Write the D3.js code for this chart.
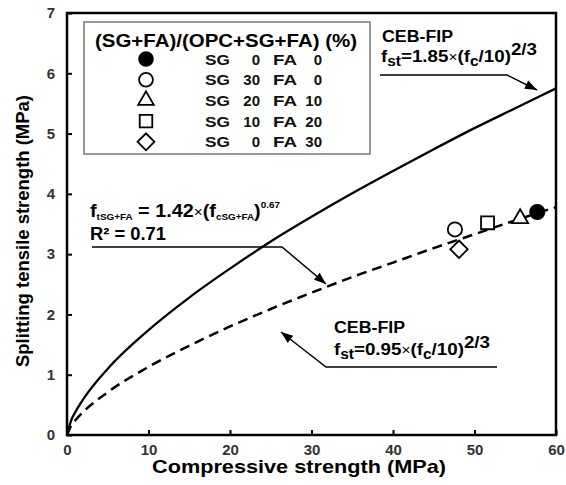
<!DOCTYPE html>
<html>
<head>
<meta charset="utf-8">
<script src="https://cdn.jsdelivr.net/npm/d3@7"></script>
<style>
  body { margin: 0; background: #fff; }
  text { font-family: "Liberation Sans", Arial, sans-serif; }
</style>
</head>
<body>
<div id="container"></div>
<script>
// values
var fcGrid = [0, 0.5, 1, 2, 5, 10, 15, 20, 25, 30, 35, 40, 45, 50, 55, 60];
var cebUpper = [0, 0.24, 0.375, 0.595, 1.10, 1.74, 2.28, 2.76, 3.21, 3.62, 4.01, 4.38, 4.74, 5.09, 5.42, 5.75];
var fitSgFa = [0, 0.15, 0.24, 0.385, 0.71, 1.13, 1.48, 1.80, 2.09, 2.36, 2.62, 2.86, 3.10, 3.33, 3.56, 3.78];

var mixSG = [0, 30, 20, 10, 0];
var mixFA = [0, 0, 10, 20, 30];
var mixFc = [57.7, 47.6, 55.6, 51.6, 48.1];
var mixFt = [3.70, 3.41, 3.59, 3.52, 3.08];
var mixSymbol = ['fcircle', 'circle', 'triangle', 'square', 'diamond'];

var xTicks = [0, 10, 20, 30, 40, 50, 60];
var yTicks = [0, 1, 2, 3, 4, 5, 6, 7];

var width = 566, height = 485;
var margin = { left: 67, right: 10, top: 13, bottom: 50 };

var svg = d3.select('#container').append('svg')
  .attr('width', width)
  .attr('height', height);

var x = d3.scaleLinear().domain([0, 60]).range([margin.left, width - margin.right]);
var y = d3.scaleLinear().domain([0, 7]).range([height - margin.bottom, margin.top]);

// axes with inward ticks
svg.append('g')
  .attr('transform', `translate(0,${y(0)})`)
  .call(d3.axisBottom(x).tickValues(xTicks).tickFormat(d3.format('d')).tickSizeInner(-5).tickSizeOuter(0).tickPadding(9))
  .call(g => g.select('.domain').remove())
  .call(g => g.selectAll('line').attr('stroke', '#000').attr('stroke-width', 2))
  .call(g => g.selectAll('text').attr('font-size', 15).attr('font-weight', 'bold').attr('fill', '#333')
    .attr('font-family', '"Liberation Sans", Arial, sans-serif'));

svg.append('g')
  .attr('transform', `translate(${x(0)},0)`)
  .call(d3.axisLeft(y).tickValues(yTicks).tickFormat(d3.format('d')).tickSizeInner(-5).tickSizeOuter(0).tickPadding(12))
  .call(g => g.select('.domain').remove())
  .call(g => g.selectAll('line').attr('stroke', '#000').attr('stroke-width', 2))
  .call(g => g.selectAll('text').attr('font-size', 15).attr('font-weight', 'bold').attr('fill', '#333')
    .attr('font-family', '"Liberation Sans", Arial, sans-serif'));

// frame
svg.append('rect')
  .attr('x', x(0)).attr('y', y(7))
  .attr('width', x(60) - x(0)).attr('height', y(0) - y(7))
  .attr('fill', 'none').attr('stroke', '#000').attr('stroke-width', 2.5);

// curves
var line = d3.line()
  .x((d, i) => x(fcGrid[i]))
  .y(d => y(d))
  .curve(d3.curveMonotoneX);

svg.append('path').datum(cebUpper)
  .attr('d', line)
  .attr('fill', 'none').attr('stroke', '#000').attr('stroke-width', 2.3);

svg.append('path').datum(fitSgFa)
  .attr('d', line)
  .attr('fill', 'none').attr('stroke', '#000').attr('stroke-width', 2.5)
  .attr('stroke-dasharray', '10,6');

// markers
function symbolPath(kind, s) {
  if (kind === 'fcircle' || kind === 'circle') return d3.symbol(d3.symbolCircle, s)();
  if (kind === 'triangle') return d3.symbol(d3.symbolTriangle, s * 0.7)();
  if (kind === 'square') return d3.symbol(d3.symbolSquare, s * 1.05)();
  return d3.symbol(d3.symbolSquare, s * 0.95)();
}

function drawMarker(g, kind, cx, cy, s) {
  g.append('path')
    .attr('d', symbolPath(kind, s))
    .attr('transform', `translate(${cx},${cy})` + (kind === 'diamond' ? ' rotate(45)' : ''))
    .attr('fill', kind === 'fcircle' ? '#000' : '#fff')
    .attr('stroke', '#000')
    .attr('stroke-width', 1.8);
}

mixFc.forEach((fc, i) => drawMarker(svg, mixSymbol[i], x(fc), y(mixFt[i]), 160));

// legend
var legend = svg.append('g');
legend.append('rect')
  .attr('x', 84).attr('y', 22).attr('width', 286).attr('height', 132)
  .attr('fill', '#fff').attr('stroke', '#777').attr('stroke-width', 1.5);
legend.append('text')
  .attr('x', 95).attr('y', 47)
  .attr('font-size', 18).attr('font-weight', 'bold')
  .attr('textLength', 262).attr('lengthAdjust', 'spacingAndGlyphs')
  .text('(SG+FA)/(OPC+SG+FA) (%)');

mixSG.forEach((sg, i) => {
  var cy = 59 + i * 20.7;
  drawMarker(legend, mixSymbol[i], 146, cy, 150);
  var t = legend.append('g').attr('font-size', 15).attr('font-weight', 'bold').attr('fill', '#111');
  t.append('text').attr('x', 205).attr('y', cy + 5.5)
    .attr('textLength', 25).attr('lengthAdjust', 'spacingAndGlyphs').text('SG');
  t.append('text').attr('x', 260).attr('y', cy + 5.5).attr('text-anchor', 'end').text(sg);
  t.append('text').attr('x', 273).attr('y', cy + 5.5)
    .attr('textLength', 24).attr('lengthAdjust', 'spacingAndGlyphs').text('FA');
  t.append('text').attr('x', 322).attr('y', cy + 5.5).attr('text-anchor', 'end').text(mixFA[i]);
});

// annotation helpers
function arrow(points) {
  svg.append('path')
    .attr('d', d3.line()(points))
    .attr('fill', 'none').attr('stroke', '#000').attr('stroke-width', 1.5);
  var a = points[points.length - 1], b = points[points.length - 2];
  var ang = Math.atan2(a[1] - b[1], a[0] - b[0]) * 180 / Math.PI;
  svg.append('path')
    .attr('d', 'M0,0 L-12,-4.5 L-12,4.5 Z')
    .attr('transform', `translate(${a[0]},${a[1]}) rotate(${ang})`)
    .attr('fill', '#000');
}

function cebFormula(xp, yp, coef, len) {
  var t = svg.append('text').attr('x', xp).attr('y', yp)
    .attr('font-size', 17).attr('font-weight', 'bold')
    .attr('textLength', len).attr('lengthAdjust', 'spacingAndGlyphs');
  t.append('tspan').text('f');
  t.append('tspan').attr('font-size', 14).attr('dy', 4).text('st');
  t.append('tspan').attr('dy', -4).text('=' + coef);
  t.append('tspan').attr('font-weight', 'normal').attr('font-size', 14).text('×');
  t.append('tspan').text('(f');
  t.append('tspan').attr('font-size', 14).attr('dy', 4).text('c');
  t.append('tspan').attr('dy', -4).text('/10)');
  t.append('tspan').attr('dy', -7).text('2/3');
}

// upper CEB-FIP
svg.append('text').attr('x', 382).attr('y', 42)
  .attr('font-size', 16).attr('font-weight', 'bold')
  .attr('textLength', 71).attr('lengthAdjust', 'spacingAndGlyphs').text('CEB-FIP');
cebFormula(381, 62, '1.85', 156);
arrow([[380, 75], [507, 75], [537, 90]]);

// fitted line annotation
var ft = svg.append('text').attr('x', 90).attr('y', 217)
  .attr('font-size', 18).attr('font-weight', 'bold')
  .attr('textLength', 190).attr('lengthAdjust', 'spacingAndGlyphs');
ft.append('tspan').text('f');
ft.append('tspan').attr('font-size', 9).attr('dy', 3).text('tSG+FA');
ft.append('tspan').attr('dy', -3).text(' = 1.42');
ft.append('tspan').attr('font-weight', 'normal').attr('font-size', 14).text('×');
ft.append('tspan').text('(f');
ft.append('tspan').attr('font-size', 9).attr('dy', 3).text('cSG+FA');
ft.append('tspan').attr('dy', -3).text(')');
ft.append('tspan').attr('font-size', 9).attr('dy', -9).text('0.67');
svg.append('text').attr('x', 90).attr('y', 240)
  .attr('font-size', 18).attr('font-weight', 'bold')
  .attr('textLength', 76).attr('lengthAdjust', 'spacingAndGlyphs').text('R² = 0.71');
arrow([[92, 247], [282, 247], [326, 284]]);

// lower CEB-FIP
svg.append('text').attr('x', 334).attr('y', 333)
  .attr('font-size', 16).attr('font-weight', 'bold')
  .attr('textLength', 71).attr('lengthAdjust', 'spacingAndGlyphs').text('CEB-FIP');
cebFormula(334, 355, '0.95', 156);
arrow([[497, 367], [326, 367], [281, 332]]);

// axis titles
svg.append('text')
  .attr('x', 299).attr('y', 473)
  .attr('text-anchor', 'middle')
  .attr('font-size', 19).attr('font-weight', 'bold')
  .attr('textLength', 294).attr('lengthAdjust', 'spacingAndGlyphs')
  .text('Compressive strength (MPa)');

svg.append('text')
  .attr('transform', `translate(29,231) rotate(-90)`)
  .attr('text-anchor', 'middle')
  .attr('font-size', 19).attr('font-weight', 'bold')
  .attr('textLength', 272).attr('lengthAdjust', 'spacingAndGlyphs')
  .text('Splitting tensile strength (MPa)');
</script>
</body>
</html>
